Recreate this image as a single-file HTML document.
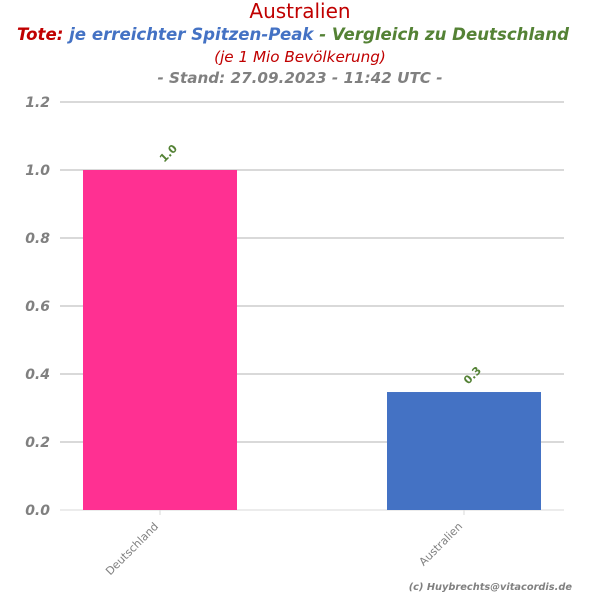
<!DOCTYPE html>
<html><head><meta charset="utf-8"><style>
body{margin:0;background:#fff;}
svg text{font-family:"DejaVu Sans","Liberation Sans",sans-serif;}
</style></head><body>
<svg id="chart" width="600" height="600" xmlns="http://www.w3.org/2000/svg">
<text x="300" y="18" text-anchor="middle" font-size="20" fill="#c00000">Australien</text>
<text x="293" y="40" text-anchor="middle" font-size="16.6" font-weight="bold" font-style="italic"><tspan fill="#c00000">Tote:</tspan><tspan fill="#4472c4"> je erreichter Spitzen-Peak</tspan><tspan fill="#548235"> - Vergleich zu Deutschland</tspan></text>
<text x="300" y="62" text-anchor="middle" font-size="15.2" font-style="italic" fill="#c00000">(je 1 Mio Bevölkerung)</text>
<text x="300" y="83" text-anchor="middle" font-size="15.2" font-weight="bold" font-style="italic" fill="#808080">- Stand: 27.09.2023 - 11:42 UTC -</text>
<g id="grid"></g><g id="bars"></g><g id="labels"></g>
<text x="572" y="590" text-anchor="end" font-size="9.8" font-weight="bold" font-style="italic" fill="#808080">(c) Huybrechts@vitacordis.de</text>
</svg>
<script>
const categories=["Deutschland","Australien"];
const values=[1.0,0.347];
const valueLabels=["1.0","0.3"];
const colors=["#ff3092","#4472c4"];
const yTicks=[0,0.2,0.4,0.6,0.8,1.0,1.2];
const tickLabels=["0.0","0.2","0.4","0.6","0.8","1.0","1.2"];
const NS="http://www.w3.org/2000/svg";
const x0=60,x1=564,yBase=510,yTop=102,yMax=1.2;
const y=v=>yBase-(v/yMax)*(yBase-yTop);
const firstC=160,lastC=464;
const xc=i=>categories.length>1?firstC+(lastC-firstC)*i/(categories.length-1):(x0+x1)/2;
const bw=154;
function mk(tag,attrs,parent){const e=document.createElementNS(NS,tag);for(const k in attrs)e.setAttribute(k,attrs[k]);parent.appendChild(e);return e;}
const grid=document.getElementById('grid'),bars=document.getElementById('bars'),labels=document.getElementById('labels');
yTicks.forEach((t,i)=>{
 const l=mk('line',{x1:x0,x2:x1,y1:y(t),y2:y(t),stroke:'#d9d9d9','stroke-width':t===0?1:2},grid);
 
 
 const tx=mk('text',{x:50,y:y(t)+5,'text-anchor':'end','font-size':14,'font-weight':'bold','font-style':'italic',fill:'#808080'},grid);
 tx.textContent=tickLabels[i];
 
 
});
categories.forEach((c,i)=>{
 const r=mk('rect',{x:xc(i)-bw/2,y:y(values[i]),width:bw,height:yBase-y(values[i]),fill:colors[i]},bars);
 
 
 const vx=xc(i)+11,vy=y(values[i])-14;
 const vl=mk('text',{x:vx,y:vy,'text-anchor':'middle','font-size':11,'font-weight':'bold',fill:'#548235',transform:`rotate(-45 ${vx} ${vy})`},labels);
 vl.textContent=valueLabels[i];
 
 
 mk('line',{x1:xc(i),x2:xc(i),y1:yBase,y2:yBase+5,stroke:'#d9d9d9'},labels);
 const cx=xc(i)-1,cy=yBase+17;
 const cl=mk('text',{x:cx,y:cy,'text-anchor':'end','font-size':11,fill:'#808080',transform:`rotate(-45 ${cx} ${cy})`},labels);
 cl.textContent=c;
 
 
});
</script>
</body></html>
